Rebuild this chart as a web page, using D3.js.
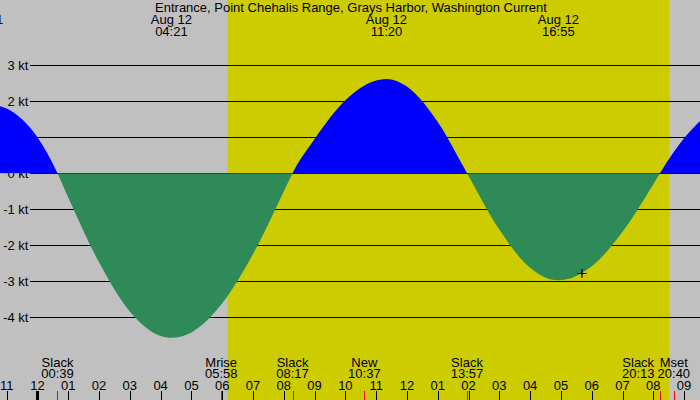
<!DOCTYPE html>
<html>
<head>
<meta charset="utf-8">
<script src="https://cdn.jsdelivr.net/npm/d3@7"></script>
<style>
  body { margin: 0; }
  svg { display: block; font-family: "Liberation Sans", Arial, sans-serif; font-size: 13px; }
</style>
</head>
<body>
<svg id="chart"></svg>
<script>
const title = 'Entrance, Point Chehalis Range, Grays Harbor, Washington Current';

// curve (knots), times are local station time
const curveTimes = ['08-11 22:47', '08-11 23:00', '08-11 23:30', '08-12 00:00', '08-12 00:39',
  '08-12 01:00', '08-12 02:00', '08-12 03:00', '08-12 04:00', '08-12 04:21', '08-12 05:00',
  '08-12 06:00', '08-12 07:00', '08-12 08:00', '08-12 08:17', '08-12 09:00', '08-12 10:00',
  '08-12 11:00', '08-12 11:20', '08-12 12:00', '08-12 13:00', '08-12 13:57', '08-12 15:00',
  '08-12 16:00', '08-12 16:55', '08-12 18:00', '08-12 19:00', '08-12 20:00', '08-12 20:13',
  '08-12 21:00', '08-12 21:31'];
const curveValues = [1.86, 1.80, 1.50, 1.00, 0, -0.68, -2.48, -3.85, -4.53, -4.58, -4.43,
  -3.62, -2.25, -0.51, 0, 0.95, 2.03, 2.58, 2.62, 2.41, 1.42, 0, -1.57,
  -2.63, -2.98, -2.59, -1.63, -0.31, 0, 0.97, 1.45];

// max flood / ebb labels along the top
const peakDates = ['Aug 11', 'Aug 12', 'Aug 12', 'Aug 12'];
const peakTimes = ['22:14', '04:21', '11:20', '16:55'];
const peakDays = ['08-11', '08-12', '08-12', '08-12'];

// events along the bottom
const eventNames = ['Slack', 'Mrise', 'Slack', 'New', 'Slack', 'Slack', 'Mset'];
const eventTimes = ['00:39', '05:58', '08:17', '10:37', '13:57', '20:13', '20:40'];

const sunrise = '08-12 06:10';
const sunset = '08-12 20:31';
const nowMark = { time: '08-12 17:41', value: -2.79 };

const yTicks = [3, 2, 1, 0, -1, -2, -3, -4];

const width = 700;
const height = 400;
const parse = d3.utcParse('%m-%d %H:%M');

const svg = d3.select('#chart')
  .attr('width', width)
  .attr('height', height);

const x = d3.scaleUtc()
  .domain([parse('08-11 22:47'), parse('08-12 21:31')])
  .range([0, width]);
const y = d3.scaleLinear()
  .domain([-4, 3])
  .range([317, 65.3]);

// night / day background
svg.append('rect').attr('width', width).attr('height', height).attr('fill', '#c0c0c0');
svg.append('rect')
  .attr('x', x(parse(sunrise)))
  .attr('width', x(parse(sunset)) - x(parse(sunrise)))
  .attr('height', height)
  .attr('fill', '#cccc00');

// grid lines + kt labels
const grid = svg.append('g');
grid.selectAll('line')
  .data(yTicks)
  .enter()
  .append('line')
  .attr('x1', 30)
  .attr('x2', width)
  .attr('y1', (d) => Math.round(y(d)) + 0.5)
  .attr('y2', (d) => Math.round(y(d)) + 0.5)
  .attr('stroke', '#000');
grid.selectAll('text')
  .data(yTicks)
  .enter()
  .append('text')
  .attr('x', 28.5)
  .attr('y', (d) => y(d) + 4.5)
  .attr('text-anchor', 'end')
  .text((d) => `${d} kt`);

// current curve, blue above zero, green below
const points = curveTimes.map((t, i) => ({ t: parse(t), v: curveValues[i] }));
const area = d3.area()
  .x((d) => x(d.t))
  .y0(y(0))
  .y1((d) => y(d.v))
  .curve(d3.curveMonotoneX);

const defs = svg.append('defs');
defs.append('clipPath').attr('id', 'above')
  .append('rect').attr('width', width).attr('height', y(0));
defs.append('clipPath').attr('id', 'below')
  .append('rect').attr('y', y(0)).attr('width', width).attr('height', height - y(0));

svg.append('path').datum(points)
  .attr('d', area).attr('fill', '#0000ff').attr('clip-path', 'url(#above)');
svg.append('path').datum(points)
  .attr('d', area).attr('fill', '#2e8b57').attr('clip-path', 'url(#below)');

// marker on the curve
const mx = x(parse(nowMark.time));
const my = y(nowMark.value);
svg.append('path')
  .attr('d', `M${mx - 4.5},${my}H${mx + 4.5}M${mx},${my - 4.5}V${my + 4.5}`)
  .attr('stroke', '#000')
  .attr('stroke-width', 1.2);

// title and peak labels
svg.append('text').attr('x', 351).attr('y', 12).attr('text-anchor', 'middle').text(title);
const peaks = svg.append('g').selectAll('g')
  .data(peakTimes)
  .enter()
  .append('g')
  .attr('transform', (d, i) => `translate(${x(parse(`${peakDays[i]} ${d}`))},0)`);
peaks.append('text').attr('y', 24).attr('text-anchor', 'middle').text((d, i) => peakDates[i]);
peaks.append('text').attr('y', 36).attr('text-anchor', 'middle').text((d) => d);

// hour ticks along the bottom
const hours = x.ticks(d3.utcHour.every(1));
const axis = svg.append('g');
axis.selectAll('line')
  .data(hours)
  .enter()
  .append('line')
  .attr('x1', (d) => Math.round(x(d)) + 0.5)
  .attr('x2', (d) => Math.round(x(d)) + 0.5)
  .attr('y1', 391)
  .attr('y2', height)
  .attr('stroke', '#000')
  .attr('stroke-width', (d) => (d.getUTCHours() === 0 ? 3 : 1));
axis.selectAll('text')
  .data(hours)
  .enter()
  .append('text')
  .attr('x', (d) => x(d))
  .attr('y', 389.5)
  .attr('text-anchor', 'middle')
  .text(d3.utcFormat('%I'));

// event ticks and labels
const evX = eventTimes.map((t) => x(parse(`08-12 ${t}`)));
svg.append('g').selectAll('line')
  .data(evX)
  .enter()
  .append('line')
  .attr('x1', (d) => Math.round(d) + 0.5)
  .attr('x2', (d) => Math.round(d) + 0.5)
  .attr('y1', 391)
  .attr('y2', height)
  .attr('stroke', '#ff0000');

const evG = svg.append('g').selectAll('g')
  .data(eventNames)
  .enter()
  .append('g');
evG.append('text').attr('y', 366.5).attr('text-anchor', 'middle').text((d) => d);
evG.append('text').attr('y', 378).attr('text-anchor', 'middle').text((d, i) => eventTimes[i]);

// keep labels on the page and apart from each other
const widths = evG.nodes().map((n) => n.getBBox().width);
const centres = evX.slice();
let rightLimit = width;
for (let i = centres.length - 1; i >= 0; i -= 1) {
  const half = widths[i] / 2;
  if (centres[i] + half > rightLimit) centres[i] = rightLimit - half;
  rightLimit = centres[i] - half - 3;
}
evG.attr('transform', (d, i) => `translate(${centres[i]},0)`);
</script>
</body>
</html>
